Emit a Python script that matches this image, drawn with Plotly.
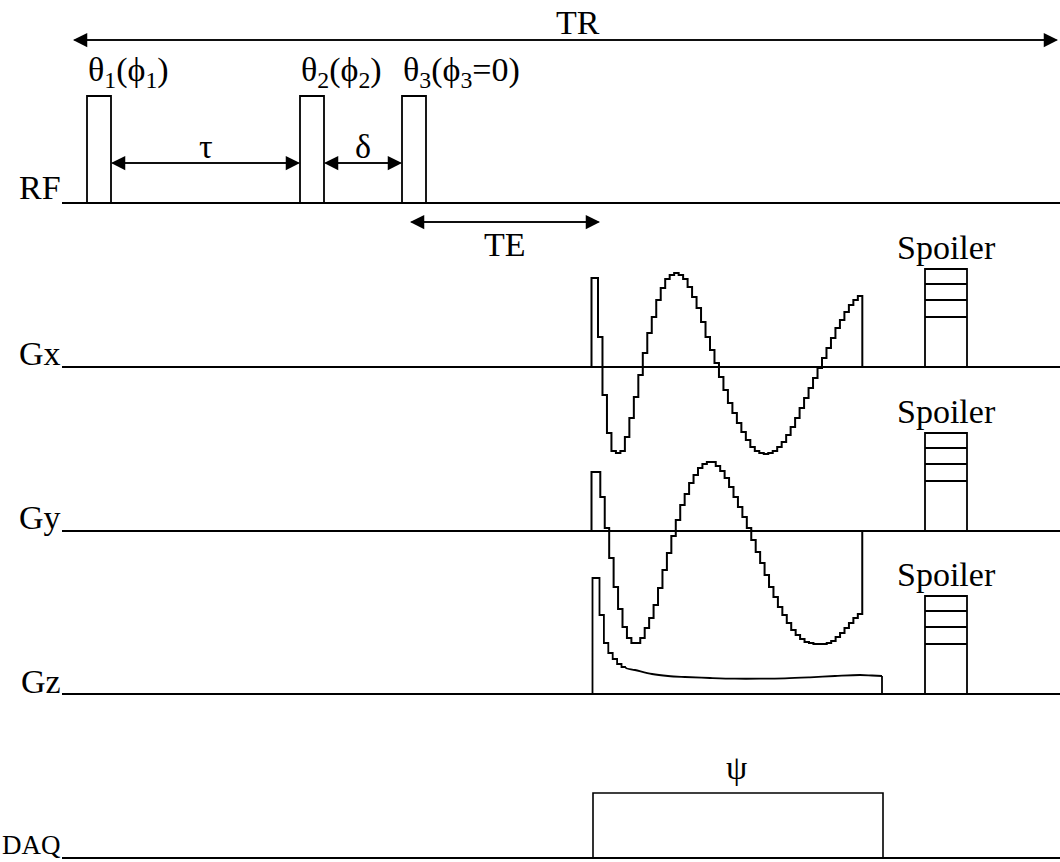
import plotly.graph_objects as go

# ---------------- data (time axis in arbitrary units, amplitudes in arbitrary units) ----------------
CHANNELS = ["RF", "Gx", "Gy", "Gz", "DAQ"]
TR_START, TR_END = 73, 1058
RF_PULSE_START = [87, 300, 402]
RF_PULSE_DUR = 24
RF_AMP = 107
RF_LABELS = ["θ<sub>1</sub>(ϕ<sub>1</sub>)", "θ<sub>2</sub>(ϕ<sub>2</sub>)", "θ<sub>3</sub>(ϕ<sub>3</sub>=0)"]
TE_START, TE_END = 410, 600

GX_PRE = [591.5, 598, 89]
GX_T0, GX_DT = 598, 4.48
GX_LEVELS = [30, -28, -66, -84, -86, -84, -70, -51, -30, -8,
             14, 34, 50, 67, 79, 88, 92, 94, 92, 88,
             80, 70, 59, 45, 30, 17, 4, -10, -23, -36,
             -46, -56, -65, -73, -80, -84, -86, -87, -86, -84,
             -80, -75, -68, -60, -51, -41, -31, -21, -11, -1,
             9, 19, 29, 39, 47, 55, 62, 67, 71]

GY_PRE = [591.5, 600.3, 59]
GY_T0, GY_DT = 600.3, 4.44
GY_LEVELS = [34, 3, -27, -56, -78, -96, -107, -112, -112, -107,
             -97, -87, -74, -57, -39, -22, -5, 11, 26, 37,
             48, 56, 63, 67, 69, 69, 65, 60, 53, 44,
             34, 24, 14, 3, -9, -21, -32, -44, -56, -66,
             -76, -84, -92, -99, -104, -108, -111, -112, -113, -113,
             -113, -112, -110, -106, -102, -97, -92, -87, -83]

GZ_PRE = [592.5, 599.5, 116]
GZ_T0, GZ_DT = 599.5, 4.4
GZ_LEVELS = [79, 51, 41, 35, 30, 27]
GZ_TAIL_T = [626, 635, 652, 668, 685, 710, 735, 760, 785, 810, 835, 860, 872, 882]
GZ_TAIL_A = [26, 24, 20, 18, 17, 16, 15.3, 15.3, 15.7, 16.7, 18, 19, 18.5, 18]

DAQ_START, DAQ_END, DAQ_AMP = 593, 883, 65
SPOILER_START, SPOILER_END = 925, 967
SPOILER_LEVELS = [98, 83, 67, 50]

# ---------------- layout constants ----------------
W, H = 1060, 862
BASE = {"RF": 203, "Gx": 367, "Gy": 531, "Gz": 694, "DAQ": 858}
LINE_X0 = 62
FONT = "Liberation Serif"
FS = 34
LW = 2

fig = go.Figure()


def add_line(xs, ys, width=LW, shape="linear"):
    fig.add_trace(go.Scatter(x=xs, y=ys, mode="lines",
                             line=dict(color="black", width=width, shape=shape),
                             hoverinfo="skip", showlegend=False))


def stair(base, pre, t0, dt, levels, close=True):
    xs = [pre[0], pre[0], pre[1], pre[1]]
    ys = [base, base - pre[2], base - pre[2], base - levels[0]]
    t = t0
    for i, a in enumerate(levels):
        xs += [t, t + dt]
        ys += [base - a, base - a]
        t += dt
        if i + 1 < len(levels):
            xs.append(t)
            ys.append(base - levels[i + 1])
    if close:
        xs.append(t)
        ys.append(base)
    return xs, ys


# baselines
for ch in CHANNELS:
    add_line([LINE_X0, W], [BASE[ch], BASE[ch]])

# RF pulses
b = BASE["RF"]
for s in RF_PULSE_START:
    add_line([s, s, s + RF_PULSE_DUR, s + RF_PULSE_DUR], [b, b - RF_AMP, b - RF_AMP, b], width=1.8)

# Gx, Gy
xs, ys = stair(BASE["Gx"], GX_PRE, GX_T0, GX_DT, GX_LEVELS)
add_line(xs, ys)
xs, ys = stair(BASE["Gy"], GY_PRE, GY_T0, GY_DT, GY_LEVELS)
add_line(xs, ys)

# Gz: spike + steps, then smooth tail
b = BASE["Gz"]
xs, ys = stair(b, GZ_PRE, GZ_T0, GZ_DT, GZ_LEVELS, close=False)
add_line(xs, ys, width=1.8)
add_line([GZ_T0 + GZ_DT * len(GZ_LEVELS)] + GZ_TAIL_T,
         [b - GZ_LEVELS[-1]] + [b - a for a in GZ_TAIL_A], width=1.8, shape="spline")
add_line([GZ_TAIL_T[-1], GZ_TAIL_T[-1]], [b - GZ_TAIL_A[-1], b], width=1.8)

# spoilers
for ch in ["Gx", "Gy", "Gz"]:
    b = BASE[ch]
    top = SPOILER_LEVELS[0]
    add_line([SPOILER_START, SPOILER_START, SPOILER_END, SPOILER_END],
             [b, b - top, b - top, b], width=1.8)
    for lv in SPOILER_LEVELS[1:]:
        add_line([SPOILER_START, SPOILER_END], [b - lv, b - lv], width=1.8)

# DAQ window
b = BASE["DAQ"]
add_line([DAQ_START, DAQ_START, DAQ_END, DAQ_END], [b, b - DAQ_AMP, b - DAQ_AMP, b], width=1.6)

# ---------------- text ----------------
ann = []


def text(x, y, s, xanchor="center", yanchor="middle", size=FS):
    ann.append(dict(x=x, y=y, xref="x", yref="y", text=s, showarrow=False,
                    xanchor=xanchor, yanchor=yanchor,
                    font=dict(family=FONT, size=size, color="black")))


def darrow(x0, x1, y):
    for a, bb in [(x0, x1), (x1, x0)]:
        ann.append(dict(x=bb, y=y, ax=a, ay=y, xref="x", yref="y", axref="x", ayref="y",
                        text="", showarrow=True, arrowhead=2, arrowsize=1.9,
                        arrowwidth=1.5, arrowcolor="black", standoff=0))


label_y = {"RF": 187, "Gx": 353, "Gy": 517, "Gz": 681}
for ch in ["RF", "Gx", "Gy", "Gz"]:
    text(LINE_X0 + 1, label_y[ch], ch, xanchor="right")
text(LINE_X0 + 1, 845, "DAQ", xanchor="right", size=27)

text((TR_START + TR_END) / 2 + 12, 22, "TR")
darrow(TR_START, TR_END, 40)

for s, lab in zip(RF_PULSE_START, RF_LABELS):
    text(s - 1, 72, lab, xanchor="left")

darrow(RF_PULSE_START[0] + RF_PULSE_DUR, RF_PULSE_START[1], 163)
text((RF_PULSE_START[0] + RF_PULSE_DUR + RF_PULSE_START[1]) / 2, 146, "τ")
darrow(RF_PULSE_START[1] + RF_PULSE_DUR, RF_PULSE_START[2], 163)
text((RF_PULSE_START[1] + RF_PULSE_DUR + RF_PULSE_START[2]) / 2, 146, "δ")

darrow(TE_START, TE_END, 222)
text((TE_START + TE_END) / 2, 244, "TE")

for ch in ["Gx", "Gy", "Gz"]:
    text((SPOILER_START + SPOILER_END) / 2, BASE[ch] - SPOILER_LEVELS[0] - 22, "Spoiler")

text((DAQ_START + DAQ_END) / 2 - 2, BASE["DAQ"] - DAQ_AMP - 26, "ψ")

fig.update_layout(
    width=W, height=H,
    margin=dict(l=0, r=0, t=0, b=0),
    paper_bgcolor="white", plot_bgcolor="white",
    xaxis=dict(range=[0, W], visible=False, fixedrange=True),
    yaxis=dict(range=[H, 0], visible=False, fixedrange=True),
    annotations=ann,
    showlegend=False,
)

fig.write_html("out.html", config={"displayModeBar": False})
